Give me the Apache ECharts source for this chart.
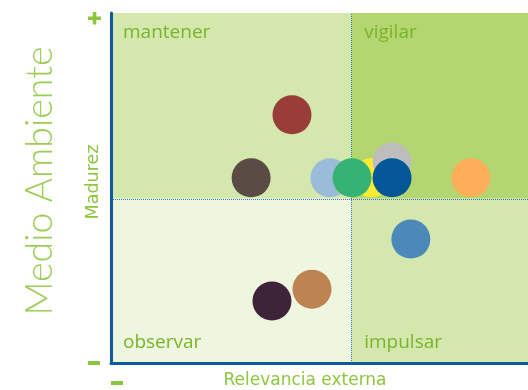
<!DOCTYPE html>
<html>
<head>
<meta charset="utf-8">
<script src="https://cdn.jsdelivr.net/npm/echarts@6/dist/echarts.min.js"></script>
<style>
  html, body { margin: 0; padding: 0; background: #fff; }
  #main { width: 528px; height: 390px; }
</style>
</head>
<body>
<div id="main"></div>
<script>
// bubbles: [x, y] on a 0-100 scale, drawn bottom to top
const pointNames = ['rojo', 'marron', 'azulClaro', 'amarillo', 'gris', 'verde', 'azul', 'naranja', 'azulMedio', 'ocre', 'morado']
const pointX = [43.4, 33.6, 52.5, 62.4, 67.4, 57.8, 67.4, 86.3, 71.9, 48.2, 38.6]
const pointY = [70.9, 52.9, 52.9, 52.9, 57.4, 52.9, 52.9, 52.9, 35.4, 21.1, 17.7]
const pointColors = ['#983d37', '#5b4b45', '#9bbcd9', '#ffeb33', '#bdbdbd', '#35b374', '#035797', '#fdae58', '#4b89b9', '#bd8351', '#3e2439']

// quadrant split
const splitX = 57.6
const splitY = 46.9
const quadrantLabels = ['mantener', 'vigilar', 'observar', 'impulsar']

const green = '#8cc63f'
const labelGreen = '#79b42b'
const blue = '#0f5a9c'

const chart = echarts.init(document.getElementById('main'))

const bubbles = pointX.map((x, i) => ({
  value: [x, pointY[i]],
  name: pointNames[i],
  itemStyle: { color: pointColors[i], opacity: 1 }
}))

function qLabel(text, pos, off) {
  return {
    show: true, position: pos, distance: 0, offset: off, formatter: text,
    color: labelGreen, fontSize: 19, fontFamily: 'Open Sans'
  }
}

chart.setOption({
  animation: false,
  grid: { left: 111, right: 0, top: 13, bottom: 27 },
  xAxis: {
    type: 'value', min: 0, max: 100, z: 10,
    axisLine: { lineStyle: { color: blue, width: 3 } },
    axisTick: { show: false }, axisLabel: { show: false }, splitLine: { show: false }
  },
  yAxis: {
    type: 'value', min: 0, max: 100, z: 10,
    axisLine: { show: true, lineStyle: { color: blue, width: 3 } },
    axisTick: { show: false }, axisLabel: { show: false }, splitLine: { show: false }
  },
  series: [{
    type: 'scatter',
    symbolSize: 39,
    z: 5,
    emphasis: { disabled: true },
    data: bubbles,
    markArea: {
      silent: true,
      z: 1,
      data: [
        [{ coord: [0, splitY], itemStyle: { color: '#d4e7ad' }, label: qLabel(quadrantLabels[0], 'insideTopLeft', [12, 10]) },
         { coord: [splitX, 100] }],
        [{ coord: [splitX, splitY], itemStyle: { color: '#b3d670' }, label: qLabel(quadrantLabels[1], 'insideTopLeft', [13, 10]) },
         { coord: [100, 100] }],
        [{ coord: [0, 0], itemStyle: { color: '#eef6e0' }, label: qLabel(quadrantLabels[2], 'insideBottomLeft', [12, -11]) },
         { coord: [splitX, splitY] }],
        [{ coord: [splitX, 0], itemStyle: { color: '#d4e7ad' }, label: qLabel(quadrantLabels[3], 'insideBottomLeft', [13, -11]) },
         { coord: [100, splitY] }]
      ]
    },
    markLine: {
      silent: true,
      symbol: 'none',
      z: 2,
      label: { show: false },
      lineStyle: { color: '#2f78bd', type: [1, 1], width: 1 },
      data: [{ xAxis: splitX }, { yAxis: splitY }]
    }
  }],
  graphic: [
    { type: 'text', x: 40, y: 181, rotation: Math.PI / 2,
      style: { text: 'Medio Ambiente', fill: '#9ccd55', fontSize: 37.5, fontFamily: 'Lato', fontWeight: 300,
               textAlign: 'center', textVerticalAlign: 'middle' } },
    { type: 'text', x: 93, y: 182, rotation: Math.PI / 2,
      style: { text: 'Madurez', fill: green, fontSize: 17.5, fontFamily: 'DejaVu Sans',
               textAlign: 'center', textVerticalAlign: 'middle' } },
    { type: 'text', x: 305, y: 381,
      style: { text: 'Relevancia externa', fill: green, fontSize: 17, fontFamily: 'DejaVu Sans',
               textAlign: 'center', textVerticalAlign: 'middle' } },
    { type: 'rect', shape: { x: 88, y: 16.5, width: 13, height: 3.5 }, style: { fill: green } },
    { type: 'rect', shape: { x: 92.8, y: 12, width: 3.5, height: 12.5 }, style: { fill: green } },
    { type: 'rect', shape: { x: 88, y: 361, width: 12, height: 4 }, style: { fill: green } },
    { type: 'rect', shape: { x: 111, y: 381, width: 12, height: 4 }, style: { fill: green } }
  ]
})
</script>
</body>
</html>
